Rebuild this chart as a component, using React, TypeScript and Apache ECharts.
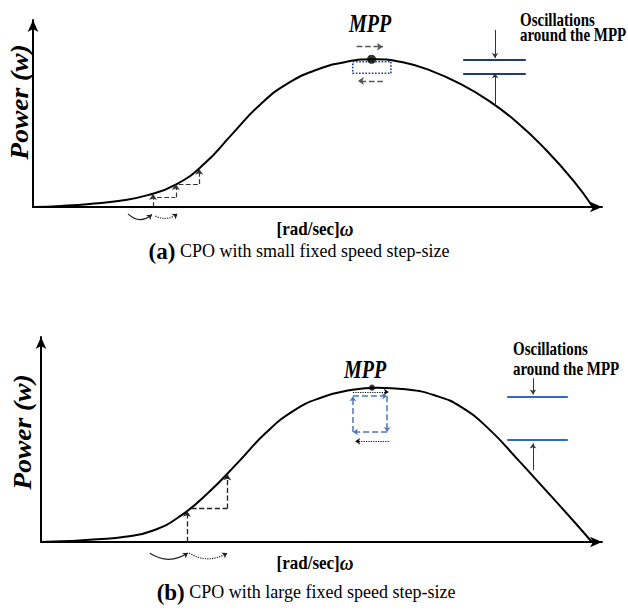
import React, { useEffect, useRef } from "react";
import * as echarts from "echarts";

// Panel (a) power curve (x: speed 0-100, y: power 0-100)
const curveA: number[][] = [
  [0, 0], [5, 0.6], [10, 1.6], [15, 3.2], [20, 6.2], [25, 11.8], [30, 22.8], [35, 39.0],
  [40, 55.0], [45, 66.5], [50, 73.5], [55, 77.6], [60, 79.0], [65, 77.4], [70, 72.8],
  [75, 66.0], [80, 57.0], [85, 45.5], [90, 31.0], [95, 14.0], [98.4, 0],
];
// Panel (b) power curve
const curveB: number[][] = [
  [0, 0], [5, 0.5], [10, 1.3], [15, 2.6], [20, 5.6], [25, 13.0], [30, 24.5], [35, 38.5],
  [40, 53.0], [45, 64.0], [50, 70.5], [55, 74.0], [60, 75.3], [65, 74.5], [70, 71.7],
  [75, 65.7], [80, 54.7], [85, 40.2], [90, 25.2], [95, 10.0], [98.2, 0],
];

// step arrows (a)
const stepArrowsA = [
  [[21.1, 0], [21.1, 7.0]],
  [[25.1, 5.2], [25.1, 12.3]],
  [[29.2, 12.3], [29.2, 20.5]],
];
const stepDashA = [
  [[21.8, 5.2], [25.0, 5.2]],
  [[25.6, 12.3], [29.2, 12.3]],
];
const curlSolidA = [[[16.7, -3.7], [20.9, -4.0]]];
const curlDotA = [[[21.5, -4.9], [25.4, -3.6]]];
const mppA = [[59.5, 79.0]];
const boxA = [[[56.2, 77.7], [62.9, 77.7], [62.9, 71.5], [56.2, 71.5], [56.2, 77.7]]];
const mppArrowsA = [
  [[56.9, 85.7], [61.5, 85.7]],
  [[61.5, 67.4], [57.1, 67.4]],
];
const oscLinesA = [
  [[75.6, 79.0], [86.6, 79.0]],
  [[75.6, 71.0], [86.6, 71.0]],
];
const oscArrowsA = [
  [[81.2, 94.7], [81.2, 79.7]],
  [[81.2, 54.5], [81.2, 71.5]],
];

// step arrows (b)
const stepArrowsB = [
  [[26.0, 0], [26.0, 15.3]],
  [[33.2, 16.3], [33.2, 33.0]],
];
const stepDashB = [[[26.8, 16.3], [33.2, 16.3]]];
const curlSolidB = [[[19.4, -5.5], [26.2, -5.4]]];
const curlDotB = [[[26.4, -5.4], [33.2, -5.4]]];
const mppB = [[59.0, 75.3]];
const dotArrowsB = [
  [[55.6, 73.2], [62.0, 73.2]],
  [[62.0, 49.1], [56.0, 49.1]],
];
const squareB = [
  [[55.6, 53.7], [55.6, 71.1]],
  [[55.6, 71.1], [61.7, 71.1]],
  [[61.7, 71.1], [61.7, 53.7]],
  [[61.7, 53.7], [55.6, 53.7]],
];
const oscLinesB = [
  [[83.1, 70.7], [93.9, 70.7]],
  [[83.1, 50.0], [93.9, 50.0]],
];
const oscArrowsB = [
  [[87.7, 79.9], [87.7, 72.0]],
  [[87.7, 35.0], [87.7, 48.1]],
];

const SERIF = "'Liberation Serif', 'Times New Roman', serif";

function linesSeries(
  idx: number,
  data: number[][][],
  color: string,
  type: string,
  width: number,
  curveness = 0,
  arrow = true,
  symbolSize = 6,
  polyline = false
) {
  return {
    type: "lines",
    coordinateSystem: "cartesian2d",
    xAxisIndex: idx,
    yAxisIndex: idx,
    polyline,
    clip: false,
    silent: true,
    symbol: arrow ? ["none", "arrow"] : ["none", "none"],
    symbolSize,
    lineStyle: { color, width, type, curveness, opacity: 1 },
    data: data.map((c) => ({ coords: c })),
    z: 5,
  };
}

function axisPair(idx: number) {
  const axisLine = {
    show: true,
    onZero: false,
    symbol: ["none", "arrow"],
    symbolSize: [8, 12],
    lineStyle: { color: "#000", width: 2 },
  };
  return {
    x: {
      type: "value", gridIndex: idx, min: 0, max: 100,
      axisLine, axisTick: { show: false }, axisLabel: { show: false }, splitLine: { show: false },
    },
    y: {
      type: "value", gridIndex: idx, min: 0, max: 100,
      axisLine, axisTick: { show: false }, axisLabel: { show: false }, splitLine: { show: false },
    },
  };
}

function txt(x: number, y: number, text: string, font: string, extra: any = {}) {
  return {
    type: "text",
    x,
    y,
    style: {
      text,
      font,
      fill: "#000",
      align: extra.align || "center",
      verticalAlign: "middle",
      rich: extra.rich,
    },
    rotation: extra.rotation || 0,
    scaleX: extra.scaleX || 1,
    scaleY: extra.scaleY || 1,
    silent: true,
  };
}

export default function App() {
  const ref = useRef<HTMLDivElement>(null);
  useEffect(() => {
    if (!ref.current) return;
    const chart = echarts.init(ref.current, null, { renderer: "svg" });
    const a = axisPair(0);
    const b = axisPair(1);
    const curveStyle = { color: "#000", width: 2 };
    const axRich = {
      w: { font: `italic bold 19px ${SERIF}`, fill: "#000" },
    };
    const capRich = {
      l: { font: `bold 23px ${SERIF}`, fill: "#000" },
    };
    chart.setOption({
      animation: false,
      backgroundColor: "#fff",
      grid: [
        { left: 33, top: 20, right: 26, bottom: 405 },
        { left: 41, top: 337, right: 26, bottom: 70 },
      ],
      xAxis: [a.x, b.x],
      yAxis: [a.y, b.y],
      series: [
        {
          type: "line", xAxisIndex: 0, yAxisIndex: 0, data: curveA, smooth: 0.5,
          showSymbol: false, lineStyle: curveStyle, silent: true, z: 3,
        },
        {
          type: "line", xAxisIndex: 1, yAxisIndex: 1, data: curveB, smooth: 0.5,
          showSymbol: false, lineStyle: curveStyle, silent: true, z: 3,
        },
        // panel a
        linesSeries(0, stepArrowsA, "#333", "dashed", 1.2, 0, true, 6),
        linesSeries(0, stepDashA, "#333", "dashed", 1.2, 0, false),
        linesSeries(0, curlSolidA, "#222", "solid", 1.2, -0.45, true, 5),
        linesSeries(0, curlDotA, "#222", "dotted", 1.2, -0.3, true, 5),
        linesSeries(0, boxA, "#1a3d8f", "dotted", 1.6, 0, false, 6, true),
        linesSeries(0, mppArrowsA, "#555", "dashed", 1.4, 0, true, 6),
        linesSeries(0, oscLinesA, "#1f3b78", "solid", 2, 0, false),
        linesSeries(0, oscArrowsA, "#333", "solid", 1, 0, true, 5),
        {
          type: "scatter", xAxisIndex: 0, yAxisIndex: 0, data: mppA, symbolSize: 9,
          itemStyle: { color: "#000" }, silent: true, z: 6,
        },
        // panel b
        linesSeries(1, stepArrowsB, "#222", "dashed", 1.3, 0, true, 6),
        linesSeries(1, stepDashB, "#222", "dashed", 1.3, 0, false),
        linesSeries(1, curlSolidB, "#222", "solid", 1.2, -0.32, true, 5),
        linesSeries(1, curlDotB, "#222", "dotted", 1.2, -0.3, true, 5),
        linesSeries(1, dotArrowsB, "#111", "dotted", 1.2, 0, true, 5),
        linesSeries(1, squareB, "#4a78b8", "dashed", 1.5, 0, true, 5),
        linesSeries(1, oscLinesB, "#2e6db4", "solid", 2, 0, false),
        linesSeries(1, oscArrowsB, "#333", "solid", 1, 0, true, 5),
        {
          type: "scatter", xAxisIndex: 1, yAxisIndex: 1, data: mppB, symbolSize: 6,
          itemStyle: { color: "#000" }, silent: true, z: 6,
        },
      ],
      graphic: [
        // panel a texts
        txt(20, 102, "Power (w)", `italic bold 25px ${SERIF}`, { rotation: Math.PI / 2, scaleX: 1.1 }),
        txt(370, 24, "MPP", `italic bold 20px ${SERIF}`, { scaleY: 1.25 }),
        txt(520, 20, "Oscillations", `bold 15px ${SERIF}`, { align: "left", scaleY: 1.2 }),
        txt(520, 35, "around the MPP", `bold 15px ${SERIF}`, { align: "left", scaleY: 1.2 }),
        txt(315, 229, "[rad/sec]{w|ω}", `bold 17px ${SERIF}`, { rich: axRich, scaleY: 1.1 }),
        txt(299, 251, "{l|(a)} CPO with small fixed speed step-size", `18px ${SERIF}`, { rich: capRich }),
        // panel b texts
        txt(23, 432, "Power (w)", `italic bold 25px ${SERIF}`, { rotation: Math.PI / 2, scaleX: 1.1 }),
        txt(365, 370, "MPP", `italic bold 20px ${SERIF}`, { scaleY: 1.25 }),
        txt(513, 349, "Oscillations", `bold 15px ${SERIF}`, { align: "left", scaleY: 1.2 }),
        txt(513, 369, "around the MPP", `bold 15px ${SERIF}`, { align: "left", scaleY: 1.2 }),
        txt(315, 563, "[rad/sec]{w|ω}", `bold 17px ${SERIF}`, { rich: axRich, scaleY: 1.1 }),
        txt(306, 592, "{l|(b)} CPO with large fixed speed step-size", `18px ${SERIF}`, { rich: capRich }),
      ],
    });
    return () => chart.dispose();
  }, []);
  return (
    <div
      ref={ref}
      style={{ position: "fixed", left: 0, top: 0, width: 628, height: 612, background: "#fff" }}
    />
  );
}
